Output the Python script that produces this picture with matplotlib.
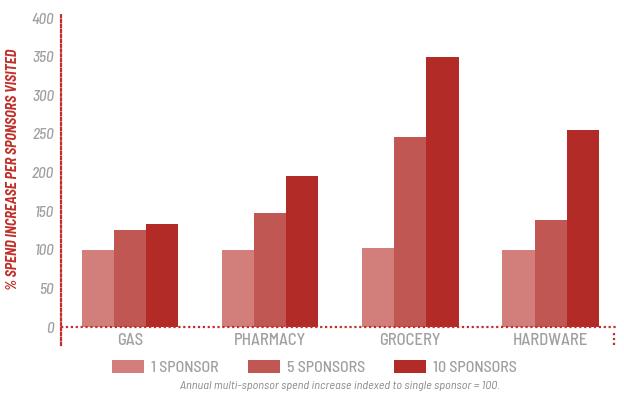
import matplotlib.pyplot as plt
import numpy as np

# data
categories = ["GAS", "PHARMACY", "GROCERY", "HARDWARE"]
one_sponsor = [100, 100, 102, 100]
five_sponsors = [125, 147, 246, 138]
ten_sponsors = [133, 195, 350, 255]
series_labels = ["1 SPONSOR", "5 SPONSORS", "10 SPONSORS"]
yticks = [0, 50, 100, 150, 200, 250, 300, 350, 400]

colors = ["#D27F7B", "#C05752", "#B22B27"]
red = "#C0302A"
grey = "#A0A0A0"
plt.rcParams['font.family'] = ["Barlow Semi Condensed", "DejaVu Sans"]

fig = plt.figure(figsize=(6.24, 3.96), dpi=100)
ax = fig.add_axes([61 / 624, 51 / 396, 557 / 624, 330 / 396])

x = np.arange(len(categories))
w = 0.229
for i, vals in enumerate([one_sponsor, five_sponsors, ten_sponsors]):
	ax.bar(x + (i - 1) * w, vals, width=w, color=colors[i], label=series_labels[i], linewidth=0)

ax.set_xlim(-0.49, 3.48)
ax.set_ylim(-23.3, 404)

for s in ["top", "right", "bottom"]:
	ax.spines[s].set_visible(False)
dots = (0, (1, 1.2))
ax.spines["left"].set_color(red)
ax.spines["left"].set_linestyle(dots)
ax.spines["left"].set_linewidth(1.6)
ax.axhline(0, color=red, linestyle=dots, linewidth=1.6, zorder=3)
ax.axvline(3.45, ymin=0.0, ymax=0.04, color=red, linestyle=dots, linewidth=1.6)

ax.set_yticks(yticks)
ax.set_yticklabels([str(t) for t in yticks], fontsize=11, style="italic", color=grey, fontweight="medium")
ax.tick_params(axis="y", length=0, pad=5)
ax.set_xticks(x)
ax.set_xticklabels(categories, fontsize=12, color=grey, fontweight="medium")
ax.tick_params(axis="x", length=0, pad=-8.5)

ax.set_ylabel("% SPEND INCREASE PER SPONSORS VISITED", fontsize=10.2, color=red,
	fontweight="bold", style="italic")
ax.yaxis.set_label_coords(-0.074, 0.533)

ax.legend(ncol=3, loc="center", bbox_to_anchor=(0.455, -0.068), frameon=False,
	prop={"size": 11.5, "weight": "medium"}, labelcolor=grey, handlelength=2.0,
	handleheight=0.88, handletextpad=0.45, columnspacing=1.8)

fig.text(340 / 624, 1 - 386 / 396, "Annual multi-sponsor spend increase indexed to single sponsor = 100.",
	ha="center", va="center", fontsize=8.8, style="italic", color="#8A8A8A")

fig.savefig("out.png", dpi=100)
